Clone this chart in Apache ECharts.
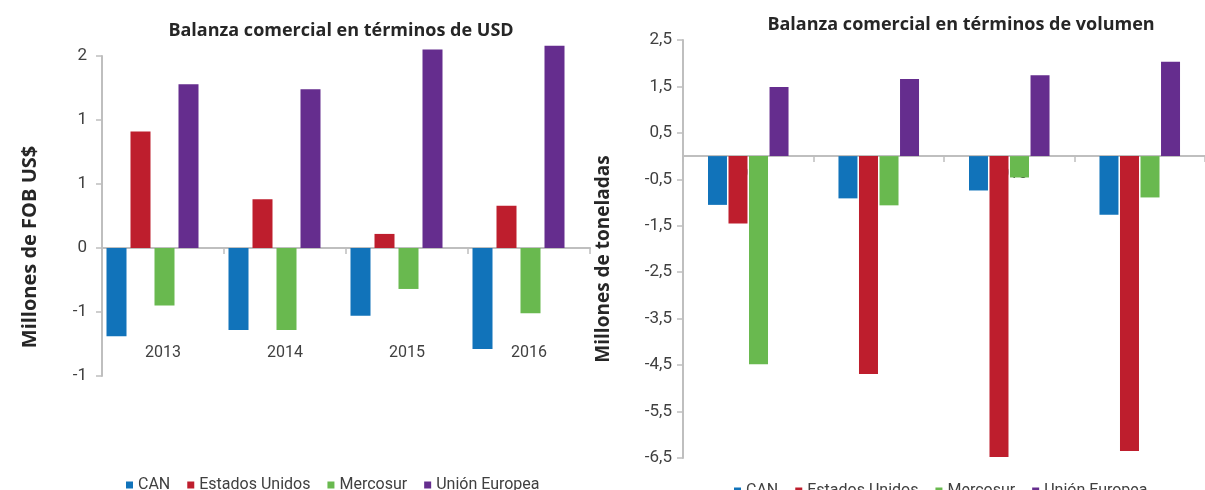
<!DOCTYPE html>
<html>
<head>
<meta charset="utf-8">
<script src="https://cdn.jsdelivr.net/npm/echarts@6/dist/echarts.min.js"></script>
<style>
    html, body { margin: 0; padding: 0; background: #fff; }
    #chart { width: 1205px; height: 490px; }
</style>
</head>
<body>
<div id="chart"></div>
<script>
var years = ['2013', '2014', '2015', '2016'];
var seriesNames = ['CAN', 'Estados Unidos', 'Mercosur', 'Unión Europea'];
var colors = ['#1173ba', '#be1e2d', '#69b94f', '#652d8e'];

// Balanza en USD (millones FOB)
var usdCAN = [-0.69, -0.64, -0.53, -0.79];
var usdEEUU = [0.91, 0.38, 0.11, 0.33];
var usdMercosur = [-0.45, -0.64, -0.32, -0.51];
var usdUE = [1.28, 1.24, 1.55, 1.58];
var usdTickLabels = ['-1', '-1', '0', '1', '1', '2'];

// Balanza en volumen (millones de toneladas)
var volCAN = [-1.05, -0.91, -0.74, -1.26];
var volEEUU = [-1.45, -4.69, -6.48, -6.35];
var volMercosur = [-4.48, -1.06, -0.46, -0.89];
var volUE = [1.49, 1.66, 1.74, 2.03];

var textFont = 'Roboto';
var gray = '#bfbfbf';

function barSeries(name, data, axisIdx, width, gap) {
    return {
        name: name,
        type: 'bar',
        xAxisIndex: axisIdx,
        yAxisIndex: axisIdx,
        data: data,
        barWidth: width,
        barGap: gap,
        clip: false,
        itemStyle: { color: colors[seriesNames.indexOf(name)] }
    };
}

function catAxis(gridIdx, margin) {
    return {
        type: 'category',
        gridIndex: gridIdx,
        data: years,
        axisLine: { onZero: true, lineStyle: { color: gray, width: 2 } },
        axisTick: { show: true, length: 6, lineStyle: { color: gray, width: 1.5 } },
        // labels stay at the grid bottom, so pull them up with a negative margin
        axisLabel: { margin: margin, fontFamily: textFont, fontSize: 16, color: '#404040' },
        z: 0
    };
}

function init() {
    var chart = echarts.init(document.getElementById('chart'));

    var usdSeries = [
        barSeries('CAN', usdCAN, 0, 20, '20%'),
        barSeries('Estados Unidos', usdEEUU, 0, 20, '20%'),
        barSeries('Mercosur', usdMercosur, 0, 20, '20%'),
        barSeries('Unión Europea', usdUE, 0, 20, '20%'),
        // empty slot so the groups sit to the left of each category, like the original
        { name: '', type: 'bar', xAxisIndex: 0, yAxisIndex: 0, data: [], barWidth: 17, barGap: '20%' }
    ];
    var volSeries = [
        barSeries('CAN', volCAN, 1, 19, '8%'),
        barSeries('Estados Unidos', volEEUU, 1, 19, '8%'),
        barSeries('Mercosur', volMercosur, 1, 19, '8%'),
        barSeries('Unión Europea', volUE, 1, 19, '8%')
    ];

    var legendBase = {
        data: seriesNames,
        icon: 'rect',
        itemWidth: 7,
        itemHeight: 7,
        itemGap: 17,
        textStyle: { fontFamily: textFont, fontSize: 16, color: '#404040' }
    };

    var option = {
        animation: false,
        backgroundColor: '#fff',
        grid: [
            { left: 102, top: 56, width: 488, height: 320 },
            { left: 683, top: 40, width: 529, height: 418 }
        ],
        legend: [
            Object.assign({ left: 121, top: 472 }, legendBase),
            Object.assign({ left: 729, top: 478 }, legendBase)
        ],
        xAxis: [catAxis(0, -31), catAxis(1, -292)],
        yAxis: [
            {
                type: 'value',
                gridIndex: 0,
                min: -1,
                max: 1.5,
                interval: 0.5,
                splitLine: { show: false },
                axisLine: { show: true, lineStyle: { color: gray, width: 2 } },
                axisTick: { show: true, length: 6, lineStyle: { color: gray, width: 1.5 } },
                axisLabel: {
                    margin: 15,
                    fontFamily: textFont,
                    fontSize: 17,
                    color: '#404040',
                    formatter: function (value, index) { return usdTickLabels[index]; }
                }
            },
            {
                type: 'value',
                gridIndex: 1,
                min: -6.5,
                max: 2.5,
                interval: 1,
                splitLine: { show: false },
                axisLine: { show: true, lineStyle: { color: gray, width: 2 } },
                axisTick: { show: true, length: 6, lineStyle: { color: gray, width: 1.5 } },
                axisLabel: {
                    margin: 11,
                    fontFamily: textFont,
                    fontSize: 17,
                    color: '#404040',
                    formatter: function (value) { return value.toFixed(1).replace('.', ','); }
                }
            }
        ],
        graphic: [
            {
                type: 'text', x: 341, y: 31, z: 10,
                style: { text: 'Balanza comercial en términos de USD', align: 'center', verticalAlign: 'middle',
                    font: 'bold 18px "Open Sans"', fill: '#262626' }
            },
            {
                type: 'text', x: 961, y: 25, z: 10,
                style: { text: 'Balanza comercial en términos de volumen', align: 'center', verticalAlign: 'middle',
                    font: 'bold 18px "Open Sans"', fill: '#262626' }
            },
            {
                type: 'text', x: 30, y: 247, rotation: Math.PI / 2, z: 10,
                style: { text: 'Millones de FOB US$', align: 'center', verticalAlign: 'middle',
                    font: 'bold 20px "Open Sans"', fill: '#262626' }
            },
            {
                type: 'text', x: 604, y: 259, rotation: Math.PI / 2, z: 10,
                style: { text: 'Millones de toneladas', align: 'center', verticalAlign: 'middle',
                    font: 'bold 19px "Open Sans"', fill: '#262626' }
            }
        ],
        series: usdSeries.concat(volSeries)
    };

    chart.setOption(option);
}

window.addEventListener('load', init, false);
</script>
</body>
</html>
